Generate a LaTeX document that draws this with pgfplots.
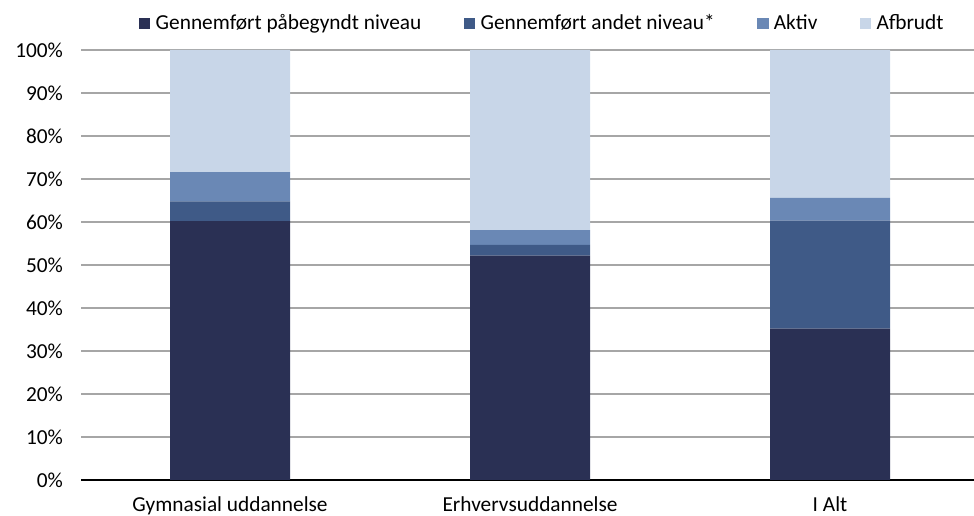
\documentclass[border=0pt]{standalone}
\usepackage{pgfplots}
\pgfplotsset{compat=1.18}
\usepackage{fontspec}
\setmainfont{Carlito}
\definecolor{c1}{HTML}{2A3054}
\definecolor{c2}{HTML}{3F5A87}
\definecolor{c3}{HTML}{6A88B5}
\definecolor{c4}{HTML}{C8D6E8}
\begin{document}
\begin{tikzpicture}[x=1pt,y=1pt]
\useasboundingbox (0,0) rectangle (730.5,387);
\begin{axis}[
  at={(60.75pt,27pt)}, anchor=south west,
  scale only axis, width=669.75pt, height=322.5pt,
  ybar stacked, bar width=90pt,
  xmin=-0.497, xmax=2.48, ymin=0, ymax=100,
  xtick={0,1,2}, xticklabels={Gymnasial uddannelse,Erhvervsuddannelse,I Alt},
  ytick={0,10,...,100}, yticklabel={\pgfmathprintnumber{\tick}\%},
  /pgf/number format/assume math mode=true,
  tick style={draw=none},
  ymajorgrids, grid style={draw=gray!70, line width=1.5pt},
  axis x line*=bottom, axis y line*=left,
  y axis line style={draw=none},
  x axis line style={black, line width=2pt, -},
  tick label style={font=\fontsize{16}{18}\selectfont},
  yticklabel style={xshift=-10pt},
  xticklabel style={yshift=-9pt},
  legend columns=4,
  legend style={at={(0.517,1.062)}, anchor=center, draw=none, fill=none,
    font=\fontsize{16}{18}\selectfont,
    /tikz/every odd column/.append style={column sep=2pt},
    /tikz/every even column/.append style={column sep=30pt}},
  legend image code/.code={\fill[#1] (0pt,-4.2pt) rectangle (8.4pt,4.2pt);},
]
\addplot[fill=c1, draw=none] coordinates {(0,60.2) (1,52.2) (2,35.2)};
\addplot[fill=c2, draw=none] coordinates {(0,4.6) (1,2.5) (2,25.1)};
\addplot[fill=c3, draw=none] coordinates {(0,6.8) (1,3.4) (2,5.3)};
\addplot[fill=c4, draw=none] coordinates {(0,28.4) (1,41.9) (2,34.4)};
\legend{Gennemført påbegyndt niveau,Gennemført andet niveau*,Aktiv,Afbrudt}
\end{axis}
\end{tikzpicture}
\end{document}
